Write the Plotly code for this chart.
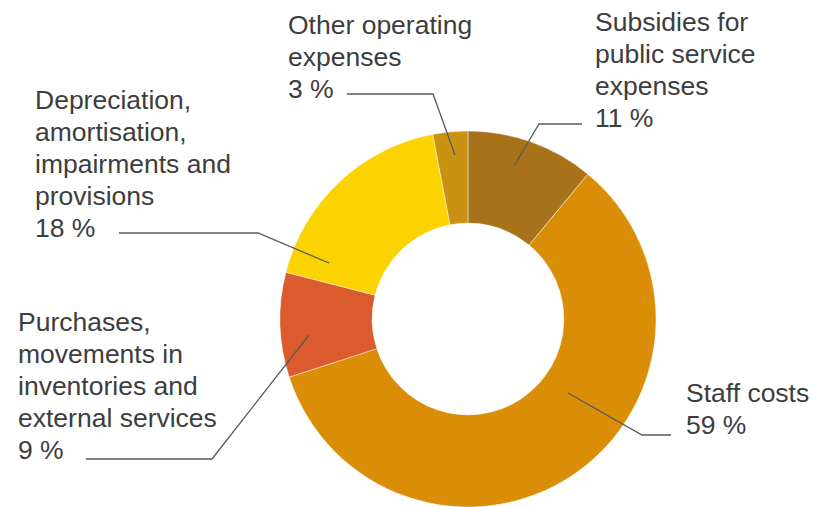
import plotly.graph_objects as go

# ---- data ----
labels = [
    "Subsidies for public service expenses",
    "Staff costs",
    "Purchases, movements in inventories and external services",
    "Depreciation, amortisation, impairments and provisions",
    "Other operating expenses",
]
values = [11, 59, 9, 18, 3]
label_lines = [
    ["Subsidies for", "public service", "expenses"],
    ["Staff costs"],
    ["Purchases,", "movements in", "inventories and", "external services"],
    ["Depreciation,", "amortisation,", "impairments and", "provisions"],
    ["Other operating", "expenses"],
]
colors = ["#A8721B", "#DA8D06", "#DB5A2E", "#FBD300", "#C99212"]

W, H = 814, 507

def px(x):
    return x / W

def py(y):
    return 1 - y / H

# layout positions (pixels): text block left x, first baseline y
text_pos = [(593, 32), (684, 403), (16, 332), (33, 110), (286, 35)]
leaders = [
    [(582, 124), (539, 124), (514, 166)],
    [(671, 435), (642, 435), (568, 393)],
    [(86, 459), (212, 459), (309, 335)],
    [(119, 233), (258, 233), (329, 263)],
    [(347, 94), (433, 94), (455, 155)],
]
LINE_STEP = 32
FS = 26.5

fig = go.Figure()
fig.add_trace(go.Pie(
    labels=labels,
    values=values,
    hole=0.51,
    sort=False,
    direction="clockwise",
    rotation=0,
    textinfo="none",
    hoverinfo="label+percent",
    marker=dict(colors=colors, line=dict(color="rgba(255,255,255,0.45)", width=1)),
    domain=dict(x=[px(280), px(656)], y=[0, 376 / H]),
    showlegend=False,
))

annotations = []
for lines, v, (lx, ly) in zip(label_lines, values, text_pos):
    all_lines = lines + [f"{v} %"]
    for i, t in enumerate(all_lines):
        base = ly + i * LINE_STEP
        annotations.append(dict(
            x=px(lx), y=py(base - 0.36 * FS),
            xref="paper", yref="paper",
            xanchor="left", yanchor="middle",
            text=t, showarrow=False,
            font=dict(family="Liberation Sans, Arial, sans-serif", size=FS, color="#3d3d3d"),
        ))

shapes = []
for pts in leaders:
    path = "M " + " L ".join(f"{px(x)},{py(y)}" for x, y in pts)
    shapes.append(dict(type="path", path=path, xref="paper", yref="paper",
                       line=dict(color="#5a5a5a", width=1.3), layer="above"))

fig.update_layout(
    width=W, height=H,
    margin=dict(l=0, r=0, t=0, b=0),
    paper_bgcolor="white", plot_bgcolor="white",
    annotations=annotations,
    shapes=shapes,
)

fig.write_html("out.html")
